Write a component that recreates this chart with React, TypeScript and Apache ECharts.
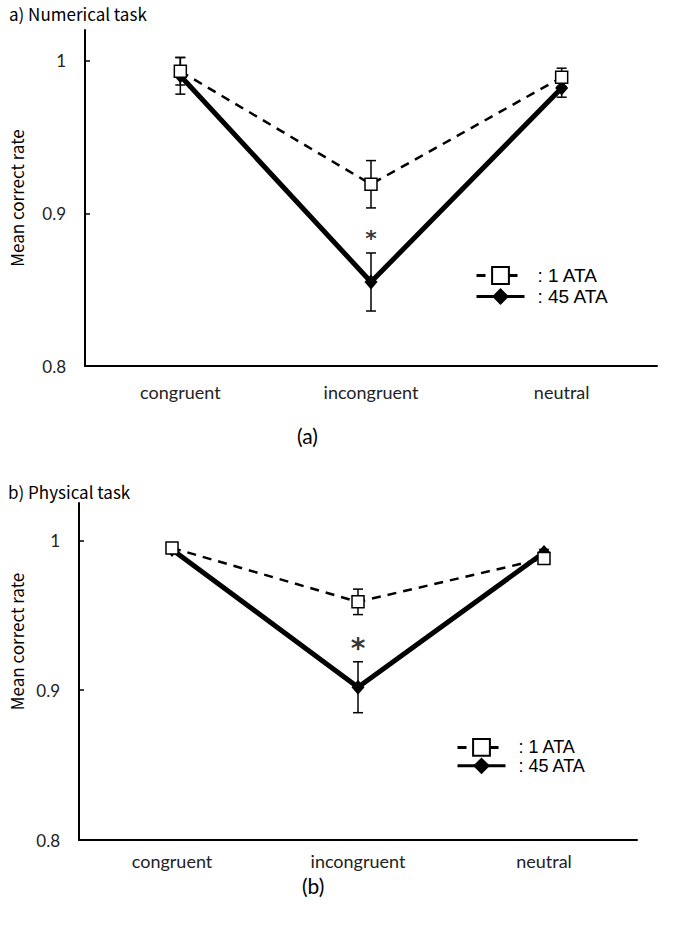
import React, { useEffect, useRef } from "react";
import * as echarts from "echarts";

const categories = ["congruent", "incongruent", "neutral"];
const yTickValues = [0.8, 0.9, 1];
const seriesNames = ["1 ATA", "45 ATA"];

// a) Numerical task
const numMean1 = [0.993, 0.919, 0.989];
const numErr1 = [0.009, 0.0155, 0.006];
const numMean45 = [0.99, 0.855, 0.982];
const numErr45 = [0.012, 0.019, 0.006];
const numSig = [[1, 0.8856]];

// b) Physical task
const phyMean1 = [0.995, 0.959, 0.988];
const phyErr1 = [0.002, 0.0085, 0.002];
const phyMean45 = [0.994, 0.902, 0.992];
const phyErr45 = [0.002, 0.017, 0.002];
const phySig = [[1, 0.931]];

const BLACK = "#000";

function errorRender(params: any, api: any) {
  const x = api.value(0);
  const m = api.value(1);
  const e = api.value(2);
  const top = api.coord([x, m + e]);
  const bot = api.coord([x, m - e]);
  const hw = 5;
  const style = { stroke: BLACK, lineWidth: 1.5, fill: null };
  return {
    type: "group",
    children: [
      { type: "line", shape: { x1: top[0], y1: top[1], x2: bot[0], y2: bot[1] }, style },
      { type: "line", shape: { x1: top[0] - hw, y1: top[1], x2: top[0] + hw, y2: top[1] }, style },
      { type: "line", shape: { x1: bot[0] - hw, y1: bot[1], x2: bot[0] + hw, y2: bot[1] }, style },
    ],
  };
}

function panelSeries(
  idx: number,
  mean1: number[],
  err1: number[],
  mean45: number[],
  err45: number[],
  sig: number[][],
  sigSize: number,
  sigOffset: number
) {
  return [
    {
      name: "err45-" + idx,
      type: "custom",
      xAxisIndex: idx,
      yAxisIndex: idx,
      z: 1,
      renderItem: errorRender,
      encode: { x: 0, y: 1 },
      data: categories.map((_, i) => [i, mean45[i], err45[i]]),
    },
    {
      name: "err1-" + idx,
      type: "custom",
      xAxisIndex: idx,
      yAxisIndex: idx,
      z: 1,
      renderItem: errorRender,
      encode: { x: 0, y: 1 },
      data: categories.map((_, i) => [i, mean1[i], err1[i]]),
    },
    {
      name: seriesNames[1],
      type: "line",
      xAxisIndex: idx,
      yAxisIndex: idx,
      data: mean45,
      symbol: "diamond",
      symbolSize: [13, 15],
      itemStyle: { color: BLACK },
      lineStyle: { color: BLACK, width: 5 },
      z: 3,
    },
    {
      name: seriesNames[0],
      type: "line",
      xAxisIndex: idx,
      yAxisIndex: idx,
      data: mean1,
      symbol: "rect",
      symbolSize: 12,
      itemStyle: { color: "#fff", borderColor: BLACK, borderWidth: 1.5 },
      lineStyle: { color: BLACK, width: 2.5, type: [9, 7] },
      z: 4,
    },
    {
      name: "sig-" + idx,
      type: "scatter",
      xAxisIndex: idx,
      yAxisIndex: idx,
      data: sig,
      symbolSize: 1,
      itemStyle: { color: "rgba(0,0,0,0)" },
      label: {
        show: true,
        position: "inside",
        formatter: "*",
        fontFamily: "DejaVu Sans",
        fontWeight: "bold",
        fontSize: sigSize,
        color: BLACK,
        offset: [0, sigOffset],
      },
      z: 5,
    },
  ];
}

function xAxis(idx: number, margin: number) {
  return {
    type: "category",
    gridIndex: idx,
    data: categories,
    boundaryGap: true,
    axisLine: { lineStyle: { color: BLACK, width: 2 } },
    axisTick: { inside: true, length: 6, interval: 0, lineStyle: { color: BLACK, width: 1.5 } },
    axisLabel: { fontFamily: "Lato", fontSize: 18, color: "#222", margin },
    splitLine: { show: false },
  };
}

function yAxis(idx: number, max: number, gap: number, pad: number, nameSize: number) {
  return {
    type: "value",
    gridIndex: idx,
    min: 0.8,
    max,
    interval: 0.1,
    name: "Mean correct rate",
    nameLocation: "middle",
    nameGap: gap,
    nameTextStyle: {
      fontFamily: "Noto Sans CJK JP",
      fontSize: nameSize,
      color: BLACK,
      padding: [0, 0, 0, pad],
    },
    axisLine: { show: true, lineStyle: { color: BLACK, width: 2 } },
    axisTick: {
      show: true,
      inside: true,
      length: 5,
      customValues: [0.9, 1],
      lineStyle: { color: BLACK, width: 1.5 },
    },
    axisLabel: {
      customValues: yTickValues,
      fontFamily: "Lato",
      fontSize: 17,
      color: "#222",
      margin: 19,
      formatter: (v: number) => (Math.abs(v - 1) < 1e-9 ? "1" : v.toFixed(1)),
    },
    splitLine: { show: false },
  };
}

function legend(left: number, top: number, gap: number, size: number) {
  return {
    data: seriesNames,
    orient: "vertical",
    left,
    top,
    padding: 0,
    itemWidth: 48,
    itemHeight: 21,
    itemGap: gap,
    selectedMode: false,
    formatter: ": {name}",
    lineStyle: { width: 3 },
    textStyle: {
      fontFamily: "Liberation Sans",
      fontSize: size,
      color: BLACK,
      padding: [0, 0, 0, 8],
    },
  };
}

const titleStyle = { fontFamily: "Noto Sans CJK JP", fontSize: 17, fontWeight: "normal", color: BLACK };
const capStyle = { fontFamily: "Lato", fontSize: 21, fontWeight: "normal", color: BLACK };

export default function App() {
  const ref = useRef<HTMLDivElement>(null);
  useEffect(() => {
    document.body.style.margin = "0";
    if (!ref.current) return;
    const chart = echarts.init(ref.current, null, { renderer: "svg" });
    chart.setOption({
      animation: false,
      backgroundColor: "#fff",
      title: [
        { text: "a) Numerical task", left: 9, top: 5, padding: 0, textStyle: titleStyle },
        { text: "(a)", left: 297, top: 425, padding: 0, textStyle: capStyle },
        { text: "b) Physical task", left: 8, top: 483, padding: 0, textStyle: titleStyle },
        { text: "(b)", left: 302, top: 875, padding: 0, textStyle: capStyle },
      ],
      legend: [legend(475, 266, 2, 19), legend(456, 738, 0, 18)],
      grid: [
        { left: 81, top: 30, width: 576, height: 336 },
        { left: 77, top: 503, width: 560, height: 337 },
      ],
      xAxis: [xAxis(0, 17), xAxis(1, 12)],
      yAxis: [yAxis(0, 1.02, 60, 0, 17), yAxis(1, 1.025, 54, 60, 17)],
      series: [
        ...panelSeries(0, numMean1, numErr1, numMean45, numErr45, numSig, 22, 3),
        ...panelSeries(1, phyMean1, phyErr1, phyMean45, phyErr45, phySig, 28, 5),
      ],
    });
    return () => chart.dispose();
  }, []);
  return <div ref={ref} style={{ width: 685, height: 925 }} />;
}
